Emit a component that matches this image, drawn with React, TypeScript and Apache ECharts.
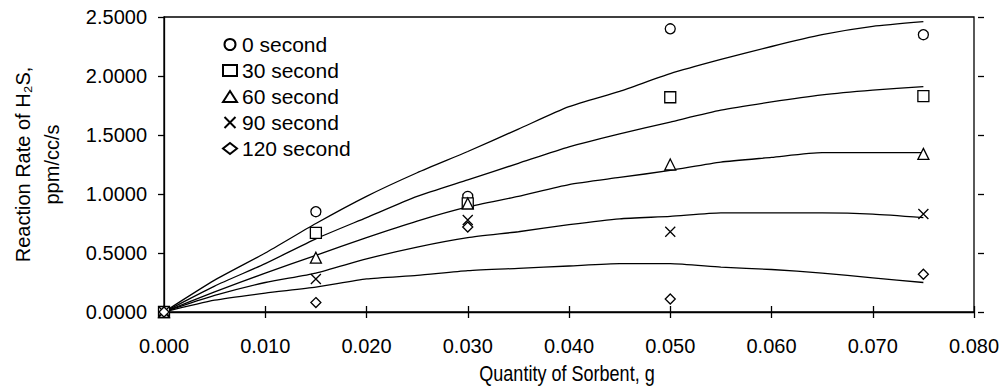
import React, { useEffect, useRef } from "react";
import * as echarts from "echarts";

const xPoints = [0, 0.015, 0.03, 0.05, 0.075];
const s0 = [0, 0.85, 0.98, 2.4, 2.35];
const s30 = [0, 0.67, 0.92, 1.82, 1.83];
const s60 = [0, 0.46, 0.92, 1.25, 1.34];
const s90 = [0, 0.28, 0.78, 0.68, 0.83];
const s120 = [0, 0.08, 0.72, 0.11, 0.32];

const xFit = [0, 0.005, 0.01, 0.015, 0.02, 0.025, 0.03, 0.035, 0.04, 0.045, 0.05, 0.055, 0.06, 0.065, 0.07, 0.075];
const f0 = [0, 0.27, 0.5, 0.75, 0.98, 1.18, 1.36, 1.55, 1.74, 1.87, 2.02, 2.14, 2.25, 2.35, 2.42, 2.46];
const f30 = [0, 0.22, 0.41, 0.62, 0.8, 0.98, 1.12, 1.26, 1.4, 1.51, 1.61, 1.71, 1.78, 1.84, 1.88, 1.91];
const f60 = [0, 0.17, 0.33, 0.48, 0.63, 0.77, 0.89, 0.98, 1.08, 1.14, 1.2, 1.27, 1.31, 1.35, 1.35, 1.35];
const f90 = [0, 0.14, 0.25, 0.33, 0.45, 0.55, 0.63, 0.68, 0.74, 0.79, 0.81, 0.84, 0.84, 0.84, 0.83, 0.8];
const f120 = [0, 0.1, 0.16, 0.21, 0.28, 0.31, 0.35, 0.37, 0.39, 0.41, 0.41, 0.38, 0.36, 0.33, 0.29, 0.25];

const seriesNames = ["0 second", "30 second", "60 second", "90 second", "120 second"];
const seriesValues = [s0, s30, s60, s90, s120];
const fitValues = [f0, f30, f60, f90, f120];
const symbols = [
  "circle",
  "rect",
  "triangle",
  "path://M0,0L10,10M10,0L0,10",
  "diamond",
];
const symbolSizes = [10, 11, 11, 10, 10];

const xAxisTitle = "Quantity of Sorbent, g";
const yAxisTitle = "Reaction Rate of H\u2082S,\nppm/cc/s";

const FONT = "'Liberation Sans', Arial, sans-serif";

export default function App() {
  const ref = useRef<HTMLDivElement>(null);
  useEffect(() => {
    if (!ref.current) return;
    const chart = echarts.init(ref.current, null, { renderer: "svg" });
    const scatter = seriesNames.map((name, i) => ({
      name,
      type: "scatter",
      symbol: symbols[i],
      symbolSize: symbolSizes[i],
      z: 5,
      itemStyle: { color: "#fff", borderColor: "#000", borderWidth: 1.3, opacity: 1 },
      data: xPoints.map((x, j) => [x, seriesValues[i][j]]),
    }));
    const lines = fitValues.map((vals, i) => ({
      name: "fit" + i,
      type: "line",
      symbol: "none",
      smooth: 0.2,
      z: 2,
      lineStyle: { color: "#000", width: 1.3 },
      data: xFit.map((x, j) => [x, vals[j]]),
    }));
    chart.setOption({
      animation: false,
      backgroundColor: "#fff",
      textStyle: { fontFamily: FONT },
      grid: {
        left: 160,
        right: 31,
        top: 17,
        bottom: 79,
        show: true,
        borderColor: "#000",
        borderWidth: 1.3,
      },
      legend: {
        data: seriesNames,
        orient: "vertical",
        left: 217,
        top: 29,
        itemWidth: 14,
        itemHeight: 11,
        itemGap: 5,
        selectedMode: false,
        textStyle: { fontSize: 21, color: "#000", fontFamily: FONT },
      },
      graphic: [
        {
          type: "text",
          x: 567,
          y: 373,
          scaleX: 0.82,
          style: {
            text: xAxisTitle,
            fontSize: 22,
            fontFamily: FONT,
            fill: "#000",
            textAlign: "center",
            textVerticalAlign: "middle",
          },
        },
      ],
      xAxis: [
        {
          type: "value",
          min: 0,
          max: 0.08,
          interval: 0.01,
          splitLine: { show: false },
          axisLine: { show: true, lineStyle: { color: "#000", width: 1.3 } },
          axisTick: { show: true, length: 6, lineStyle: { color: "#000", width: 1.3 } },
          axisLabel: {
            fontSize: 20,
            color: "#000",
            margin: 24,
            formatter: (v: number) => v.toFixed(3),
          },
        },
        {
          type: "value",
          position: "top",
          offset: -295,
          min: 0,
          max: 0.08,
          interval: 0.01,
          splitLine: { show: false },
          axisLine: { show: false },
          axisLabel: { show: false },
          axisTick: { show: true, length: 6, lineStyle: { color: "#000", width: 1.3 } },
        },
      ],
      yAxis: [
        {
          type: "value",
          min: 0,
          max: 2.5,
          interval: 0.5,
          splitLine: { show: false },
          axisLine: { show: true, lineStyle: { color: "#000", width: 1.3 } },
          axisTick: { show: true, length: 6, lineStyle: { color: "#000", width: 1.3 } },
          axisLabel: {
            fontSize: 20,
            color: "#000",
            margin: 17,
            formatter: (v: number) => v.toFixed(4),
          },
          name: yAxisTitle,
          nameLocation: "middle",
          nameGap: 98,
          nameTextStyle: { fontSize: 20, color: "#000", lineHeight: 29, align: "center" },
        },
        {
          type: "value",
          position: "right",
          offset: -814,
          min: 0,
          max: 2.5,
          interval: 0.5,
          splitLine: { show: false },
          axisLine: { show: false },
          axisLabel: { show: false },
          axisTick: { show: true, length: 6, lineStyle: { color: "#000", width: 1.3 } },
        },
      ],
      series: [...lines, ...scatter],
    } as any);
    return () => chart.dispose();
  }, []);
  return (
    <div
      ref={ref}
      style={{ position: "fixed", left: 0, top: 0, width: 1005, height: 391 }}
    />
  );
}
